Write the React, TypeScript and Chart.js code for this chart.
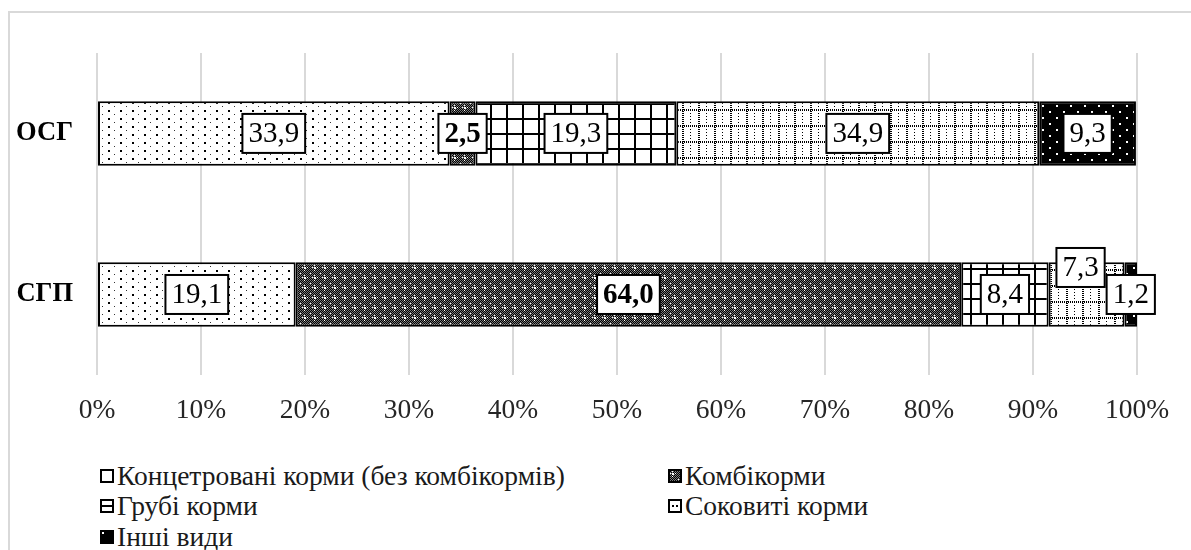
import React, { useEffect, useMemo, useRef } from "react";
import { Chart, registerables } from "chart.js";

Chart.register(...registerables);

const categories = ["ОСГ", "СГП"];
const seriesNames = [
  "Концетровані корми (без комбікормів)",
  "Комбікорми",
  "Грубі корми",
  "Соковиті корми",
  "Інші види",
];
const concentrated = [33.9, 19.1];
const combined = [2.5, 64.0];
const rough = [19.3, 8.4];
const succulent = [34.9, 7.3];
const other = [9.3, 1.2];
const xTickValues = [0, 10, 20, 30, 40, 50, 60, 70, 80, 90, 100];

const FONT = '"Liberation Serif", Tinos, "Times New Roman", Times, "DejaVu Serif", serif';
const kinds = ["dots", "checker", "grid", "dotgrid", "blackdots"];
const boldSeries = [false, true, false, false, false];
// label nudges (dataset-index) in px
const labelNudge: Record<string, [number, number]> = { "3-1": [-6, -27] };

function makeTile(kind: string): HTMLCanvasElement {
  const c = document.createElement("canvas");
  let w = 8, h = 8;
  if (kind === "dots") { w = 12; h = 8; }
  if (kind === "checker") { w = 10; h = 10; }
  if (kind === "grid") { w = 16; h = 15; }
  if (kind === "dotgrid") { w = 16; h = 16; }
  if (kind === "blackdots") { w = 14; h = 12; }
  c.width = w; c.height = h;
  const g = c.getContext("2d")!;
  if (kind === "dots") {
    g.fillStyle = "#fff"; g.fillRect(0, 0, w, h);
    g.fillStyle = "#000"; g.fillRect(2, 1, 2, 2);
    g.fillStyle = "#333"; g.fillRect(8, 5, 1, 1);
  } else if (kind === "checker") {
    for (let y = 0; y < h; y++) for (let x = 0; x < w; x++) {
      g.fillStyle = (x + y) % 2 === 0 ? "#000" : "#7a7a7a";
      g.fillRect(x, y, 1, 1);
    }
    g.fillStyle = "#fff";
    g.fillRect(4, 4, 2, 2); g.fillRect(4, 2, 1, 1); g.fillRect(4, 7, 1, 1);
    g.fillRect(2, 4, 1, 1); g.fillRect(7, 4, 1, 1);
    g.fillRect(0, 0, 1, 1);
  } else if (kind === "grid") {
    g.fillStyle = "#fff"; g.fillRect(0, 0, w, h);
    g.fillStyle = "#000"; g.fillRect(0, 0, w, 2); g.fillRect(0, 0, 2, h);
  } else if (kind === "dotgrid") {
    g.fillStyle = "#fff"; g.fillRect(0, 0, w, h);
    g.fillStyle = "#000";
    for (let x = 0; x < w; x += 2) g.fillRect(x, 0, 1, 2);
    for (let y = 0; y < h; y += 2) g.fillRect(0, y, 2, 1);
    for (let y = 1; y < h; y += 3) g.fillRect(8, y, 1, 1);
  } else if (kind === "blackdots") {
    g.fillStyle = "#000"; g.fillRect(0, 0, w, h);
    g.fillStyle = "#fff"; g.fillRect(3, 2, 2, 2); g.fillRect(10, 8, 2, 2);
  }
  return c;
}

function makeMarker(kind: string): string {
  const c = document.createElement("canvas");
  c.width = 14; c.height = 14;
  const g = c.getContext("2d")!;
  g.fillStyle = "#fff"; g.fillRect(0, 0, 14, 14);
  if (kind === "checker") {
    g.fillStyle = g.createPattern(makeTile(kind), "repeat")!;
    g.fillRect(0, 0, 14, 14);
  } else if (kind === "grid") {
    g.fillStyle = "#000"; g.fillRect(2, 6, 10, 2);
  } else if (kind === "dotgrid") {
    g.fillStyle = "#000"; g.fillRect(4, 6, 2, 2); g.fillRect(8, 6, 2, 2);
  } else if (kind === "blackdots") {
    g.fillStyle = "#000"; g.fillRect(0, 0, 14, 14);
    g.fillStyle = "#fff"; g.fillRect(0, 0, 4, 4);
  }
  g.strokeStyle = "#000"; g.lineWidth = 2;
  g.strokeRect(1, 1, 12, 12);
  return c.toDataURL();
}

const fmt = (v: number) => v.toFixed(1).replace(".", ",");

const labelPlugin = {
  id: "boxLabels",
  afterDatasetsDraw(chart: any) {
    const ctx = chart.ctx;
    chart.data.datasets.forEach((ds: any, di: number) => {
      const meta = chart.getDatasetMeta(di);
      meta.data.forEach((bar: any, i: number) => {
        const v = ds.data[i];
        const nudge = labelNudge[`${di}-${i}`] || [0, 0];
        const cx = (bar.x + bar.base) / 2 + nudge[0];
        const cy = bar.y + nudge[1];
        ctx.save();
        ctx.font = `${boldSeries[di] ? "bold " : ""}29px ${FONT}`;
        const t = fmt(v);
        const tw = ctx.measureText(t).width;
        const bw = tw + 12, bh = 39;
        ctx.fillStyle = "#fff";
        ctx.fillRect(cx - bw / 2, cy - bh / 2, bw, bh);
        ctx.strokeStyle = "#000"; ctx.lineWidth = 2;
        ctx.strokeRect(cx - bw / 2, cy - bh / 2, bw, bh);
        ctx.fillStyle = "#000";
        ctx.textAlign = "center"; ctx.textBaseline = "middle";
        ctx.fillText(t, cx, cy + 1);
        ctx.restore();
      });
    });
  },
};

export default function App() {
  const ref = useRef<HTMLCanvasElement>(null);
  const markers = useMemo(() => kinds.map((k) => makeMarker(k)), []);

  useEffect(() => {
    const canvas = ref.current!;
    const pats = kinds.map((k) => canvas.getContext("2d")!.createPattern(makeTile(k), "repeat")!);
    const series = [concentrated, combined, rough, succulent, other];
    const chart = new Chart(canvas, {
      type: "bar",
      data: {
        labels: categories,
        datasets: series.map((d, i) => ({
          label: seriesNames[i],
          data: d,
          backgroundColor: pats[i] as any,
          borderColor: "#000",
          borderWidth: 2,
          borderSkipped: false,
          categoryPercentage: 1,
          barPercentage: 0.4,
        })),
      },
      options: {
        indexAxis: "y",
        responsive: false,
        animation: false,
        layout: { padding: { top: 25, right: 54, left: 0, bottom: 0 } },
        scales: {
          x: {
            stacked: true,
            min: 0,
            max: 100,
            afterBuildTicks: (s: any) => { s.ticks = xTickValues.map((v) => ({ value: v })); },
            ticks: {
              callback: (v: any) => v + "%",
              font: { family: FONT, size: 27.5 },
              color: "#262626",
              padding: 19,
              maxRotation: 0,
            },
            grid: { color: "#d9d9d9", lineWidth: 2, drawTicks: false },
            border: { display: false },
            afterFit: (s: any) => { s.height = 75; },
          },
          y: {
            stacked: true,
            grid: { display: false, drawTicks: false },
            border: { display: false },
            ticks: { font: { family: FONT, size: 26.5, weight: "bold" }, color: "#000", padding: 24 },
            afterFit: (s: any) => { s.width = 87; },
          },
        },
        plugins: { legend: { display: false }, tooltip: { enabled: false } },
      } as any,
      plugins: [labelPlugin],
    });
    return () => chart.destroy();
  }, []);

  const colX = [100, 668];
  const rowY = [476, 506, 537];
  const legendPos = [
    [0, 0], [1, 0], [0, 1], [1, 1], [0, 2],
  ];

  return (
    <div style={{ position: "fixed", left: 0, top: 0, width: 1191, height: 550, overflow: "hidden", background: "#fff" }}>
      <div style={{ position: "absolute", left: 8, top: 11, width: 1400, height: 800, borderLeft: "2px solid #d9d9d9", borderTop: "2px solid #d9d9d9" }} />
      <canvas ref={ref} width={1181} height={437} style={{ position: "absolute", left: 10, top: 13, width: 1181, height: 437 }} />
      {seriesNames.map((n, i) => {
        const [c, r] = legendPos[i];
        return (
          <div key={n} style={{ position: "absolute", left: colX[c], top: rowY[r] - 16, height: 32, display: "flex", alignItems: "center", whiteSpace: "nowrap", fontFamily: FONT, fontSize: 27.5, color: "#1a1a1a" }}>
            <img src={markers[i]} width={14} height={14} style={{ marginRight: 3, display: "block" }} />
            <span>{n}</span>
          </div>
        );
      })}
    </div>
  );
}
